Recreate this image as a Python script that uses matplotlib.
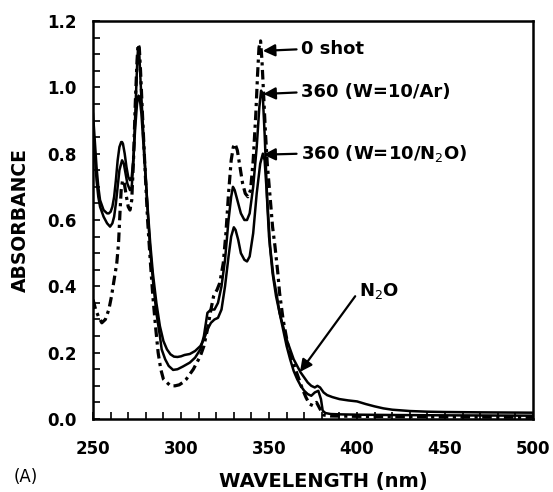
import matplotlib
matplotlib.use("Agg")
import matplotlib.pyplot as plt
from matplotlib.ticker import MultipleLocator

# Absorption spectra: untreated sample and after 360 shots (Ar / N2O)
wl_0shot = [250, 251.5, 253, 255, 257, 259, 260.5, 262, 263.5, 264.5, 265.3, 266, 266.8,
            267.8, 269, 270, 271, 272, 273, 274, 275, 275.6, 276.3, 277, 278, 279.5, 281,
            282.5, 284, 285.5, 287, 288.5, 290, 292, 294, 296.6, 299, 301, 303, 305, 307,
            309, 311, 313, 315, 317, 318.5, 320.5, 322, 324, 325.5, 327, 328.5, 329.7,
            330.7, 332, 333.5, 335, 336.5, 338, 339.5, 341, 342.5, 343.5, 344.3, 345.2,
            346, 347, 348, 349, 350.6, 352, 353.4, 355, 356, 358, 360.8, 363, 365, 367,
            369, 371, 373, 375, 377, 379, 381, 385, 400, 450, 500]
abs_0shot = [0.36, 0.33, 0.31, 0.29, 0.30, 0.33, 0.37, 0.42, 0.47, 0.53, 0.62, 0.69, 0.72,
             0.71, 0.67, 0.64, 0.63, 0.66, 0.78, 0.95, 1.08, 1.13, 1.12, 1.05, 0.93, 0.76,
             0.60, 0.48, 0.37, 0.28, 0.20, 0.15, 0.12, 0.11, 0.10, 0.10, 0.103, 0.11, 0.12,
             0.135, 0.15, 0.17, 0.19, 0.22, 0.27, 0.33, 0.37, 0.39, 0.41, 0.47, 0.56, 0.68,
             0.78, 0.82, 0.83, 0.81, 0.76, 0.71, 0.68, 0.67, 0.69, 0.78, 0.92, 1.04, 1.12,
             1.14, 1.08, 0.97, 0.86, 0.77, 0.67, 0.58, 0.52, 0.44, 0.38, 0.30, 0.22, 0.18,
             0.15, 0.12, 0.09, 0.065, 0.045, 0.04, 0.05, 0.03, 0.012, 0.009, 0.008, 0.006,
             0.005]

wl_ar = [250, 251, 252, 253, 254, 256, 258, 259.7, 261, 262, 263, 264, 265, 266.5, 267.5,
         268.5, 269.5, 271, 272, 273, 274, 275, 275.6, 276.3, 277, 278, 279.5, 281, 282.5,
         284, 286, 288, 289, 291, 293, 295.5, 298, 301, 305, 308, 311, 313, 315, 317, 319,
         321, 323, 325, 327, 328.5, 329.5, 330.5, 332, 334, 336, 337.5, 339, 341, 343,
         344.5, 345.5, 346.5, 347.5, 348.9, 350.6, 352.5, 354.5, 356, 358, 360, 362, 364,
         366, 368, 370, 372, 374, 376, 378, 379.5, 380.5, 382, 385, 390, 400, 420, 450, 500]
abs_ar = [0.88, 0.80, 0.72, 0.67, 0.64, 0.61, 0.59, 0.58, 0.59, 0.61, 0.65, 0.70, 0.75,
          0.78, 0.77, 0.74, 0.71, 0.69, 0.70, 0.78, 0.92, 1.06, 1.12, 1.10, 1.02, 0.92,
          0.77, 0.63, 0.51, 0.42, 0.32, 0.25, 0.21, 0.18, 0.16, 0.148, 0.15, 0.158, 0.17,
          0.185, 0.21, 0.25, 0.32, 0.33, 0.33, 0.35, 0.40, 0.48, 0.60, 0.67, 0.70, 0.69,
          0.66, 0.62, 0.60, 0.60, 0.62, 0.70, 0.82, 0.94, 0.99, 0.97, 0.86, 0.67, 0.52,
          0.43, 0.37, 0.32, 0.27, 0.22, 0.18, 0.145, 0.12, 0.10, 0.085, 0.075, 0.07, 0.08,
          0.085, 0.06, 0.025, 0.018, 0.015, 0.014, 0.013, 0.012, 0.011, 0.01]

wl_n2o = [250, 251, 252, 253, 254, 256, 258, 259, 260, 261, 262, 263, 264, 265, 266, 266.5,
          267, 268, 269, 270, 271, 272, 273, 274, 275, 275.8, 276.5, 277.5, 278.5, 279.5,
          281, 282.5, 284, 286, 288, 290, 292, 294, 296, 298, 300, 302, 305, 308, 311, 313,
          315, 317, 319, 321, 323, 325, 327, 328.5, 330, 331, 332.5, 334, 336, 337.5, 339,
          341, 343, 345, 346.5, 347.5, 348.5, 350, 352, 354, 356, 358, 360, 362, 364, 366,
          368, 370, 372, 374, 376, 377.5, 379, 381, 383, 386, 390, 395, 400, 405, 410, 415,
          420, 430, 440, 450, 470, 500]
abs_n2o = [0.92, 0.84, 0.76, 0.70, 0.66, 0.63, 0.62, 0.62, 0.625, 0.64, 0.67, 0.72, 0.78,
           0.82, 0.835, 0.835, 0.83, 0.80, 0.76, 0.73, 0.72, 0.73, 0.79, 0.88, 0.95, 0.975,
           0.97, 0.92, 0.84, 0.76, 0.64, 0.53, 0.44, 0.35, 0.28, 0.235, 0.21, 0.195, 0.188,
           0.187, 0.189, 0.193, 0.196, 0.205, 0.22, 0.24, 0.27, 0.29, 0.30, 0.305, 0.33,
           0.40, 0.49, 0.55, 0.578, 0.57, 0.54, 0.50, 0.48, 0.475, 0.49, 0.56, 0.68, 0.77,
           0.80, 0.78, 0.70, 0.55, 0.44, 0.37, 0.32, 0.28, 0.24, 0.21, 0.18, 0.16, 0.14,
           0.125, 0.11, 0.10, 0.095, 0.10, 0.095, 0.08, 0.072, 0.066, 0.06, 0.056, 0.053,
           0.045, 0.038, 0.032, 0.028, 0.024, 0.022, 0.021, 0.02, 0.019]

x_ticks = [250, 300, 350, 400, 450, 500]
y_ticks = [0.0, 0.2, 0.4, 0.6, 0.8, 1.0, 1.2]

plt.rcParams["font.family"] = "DejaVu Sans"

fig = plt.figure(figsize=(5.53, 4.92), dpi=100)
ax = fig.add_axes([0.1682, 0.1484, 0.7957, 0.8089])

ax.plot(wl_0shot, abs_0shot, color="black", lw=2.3, dashes=(3.0, 1.4, 1.0, 1.4))
ax.plot(wl_ar, abs_ar, color="black", lw=1.8)
ax.plot(wl_n2o, abs_n2o, color="black", lw=1.8)

ax.set_xlim(250, 500)
ax.set_ylim(0, 1.2)
ax.set_xticks(x_ticks)
ax.set_yticks(y_ticks)
ax.set_yticklabels([f"{v:.1f}" for v in y_ticks])
ax.xaxis.set_minor_locator(MultipleLocator(10))
ax.yaxis.set_minor_locator(MultipleLocator(0.05))
ax.tick_params(which="both", direction="in", length=5, width=1.2)
ax.tick_params(axis="x", which="major", pad=15, labelsize=12)
ax.tick_params(axis="y", which="major", pad=12, labelsize=12)
for lab in ax.get_xticklabels() + ax.get_yticklabels():
    lab.set_fontweight("bold")
for sp in ax.spines.values():
    sp.set_linewidth(1.8)

ax.set_xlabel("WAVELENGTH (nm)", fontsize=14, fontweight="bold")
ax.xaxis.set_label_coords(0.523, -0.133)
ax.set_ylabel("ABSORBANCE", fontsize=13.5, fontweight="bold")
ax.yaxis.set_label_coords(-0.143, 0.5)
fig.text(0.025, 0.012, "(A)", fontsize=12, ha="left", va="bottom")

arrow = dict(arrowstyle="-|>", color="black", lw=1.6, mutation_scale=18,
             shrinkA=1, shrinkB=0, relpos=(0, 0.5))
ax.annotate("0 shot", xy=(346.5, 1.11), xytext=(368, 1.115), fontsize=13,
            fontweight="bold", va="center", ha="left", arrowprops=arrow)
ax.annotate("360 (W=10/Ar)", xy=(346.8, 0.98), xytext=(368, 0.985), fontsize=13,
            fontweight="bold", va="center", ha="left", arrowprops=arrow)
ax.annotate("360 (W=10/N$_2$O)", xy=(346.8, 0.797), xytext=(368, 0.80), fontsize=13,
            fontweight="bold", va="center", ha="left", arrowprops=arrow)
ax.annotate("N$_2$O", xy=(367.6, 0.142), xytext=(401, 0.385), fontsize=13,
            fontweight="bold", va="center", ha="left", arrowprops=arrow)

fig.savefig("out.png", dpi=100)
